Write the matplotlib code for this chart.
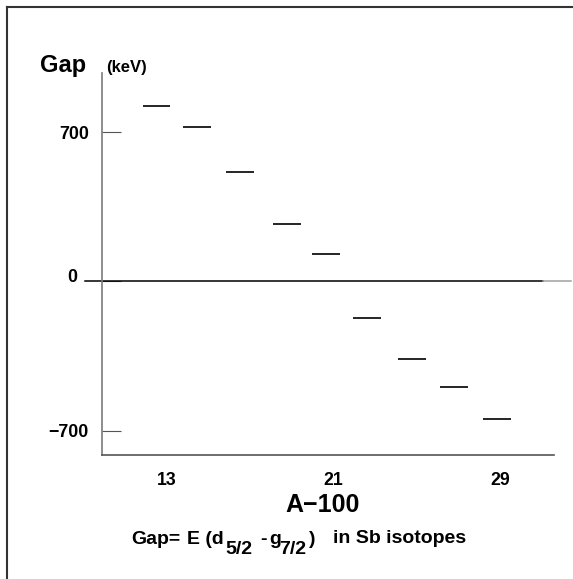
import matplotlib
matplotlib.use('Agg')
import matplotlib.pyplot as plt
from matplotlib.lines import Line2D
from matplotlib.transforms import ScaledTranslation

# energy gap E(d5/2 - g7/2) in Sb isotopes
a_minus_100 = [12.5, 14.45, 16.5, 18.78, 20.63, 22.6, 24.76, 26.8, 28.85]
gap_kev = [824, 724, 513, 271, 130, -171, -362, -493, -645]

xtick_vals = [13, 21, 29]
ytick_vals = [-700, 0, 700]
ytick_labels = ['\u2212700', '0', '700']

plt.rcParams['font.family'] = ['Liberation Sans', 'DejaVu Sans']
plt.rcParams['font.weight'] = 'bold'

W, H = 573, 579
fig = plt.figure(figsize=(W / 100, H / 100), dpi=100)


def px(x, y):
    # pixel position (from top left) -> figure fraction
    return x / W, 1 - y / H


ax = fig.add_axes([102 / W, 1 - 455 / H, 452 / W, 382 / H])

half = 0.67
ax.hlines(gap_kev, [x - half for x in a_minus_100], [x + half for x in a_minus_100],
          colors='black', linewidth=1.2)

# zero line, reaching a bit past the axes on both sides
ax.axhline(0, xmin=-17 / 452, xmax=441 / 452, color='black', lw=1.1, clip_on=False)
ax.axhline(0, xmin=441 / 452, xmax=469 / 452, color='#a0a0a0', lw=1.1, clip_on=False)

ax.set_xlim(9.88, 31.6)
ax.set_ylim(-813, 977)

for s in ['top', 'right']:
    ax.spines[s].set_visible(False)
ax.spines['left'].set_color('#7a7a7a')
ax.spines['bottom'].set_color('#555555')
ax.spines['left'].set_linewidth(1.2)
ax.spines['bottom'].set_linewidth(1.2)

ax.set_yticks(ytick_vals)
ax.set_yticklabels(ytick_labels)
ax.tick_params(axis='y', direction='in', length=13.7, width=0.8, color='#555555',
               pad=9.4, labelsize=12.8)
ax.set_xticks(xtick_vals)
ax.set_xticklabels([str(v) for v in xtick_vals])
ax.tick_params(axis='x', length=0, pad=12, labelsize=12.8)

# the "0" label sits a bit further left and higher
for lab in ax.get_yticklabels():
    if lab.get_text() == '0':
        lab.set_transform(lab.get_transform() +
                          ScaledTranslation(-12 / 100, 6 / 100, fig.dpi_scale_trans))

# axis titles
fig.text(*px(40, 72), 'Gap', fontsize=17, va='baseline')
fig.text(*px(106, 72), '(keV)', fontsize=12, va='baseline')
fig.text(*px(323, 511.5), 'A\u2212100', fontsize=18, ha='center', va='baseline')

# caption with lowered subscripts
fs = 14
fig.text(*px(131, 544), 'Gap=', fontsize=fs, va='baseline')
fig.text(*px(187, 544), 'E (d', fontsize=fs, va='baseline')
fig.text(*px(225, 554), '5/2', fontsize=fs, va='baseline')
fig.text(*px(260, 544), '-', fontsize=fs, va='baseline')
fig.text(*px(269, 544), 'g', fontsize=fs, va='baseline')
fig.text(*px(279, 554), '7/2', fontsize=fs, va='baseline')
fig.text(*px(309, 544), ')', fontsize=fs, va='baseline')
fig.text(*px(333, 543), 'in Sb isotopes', fontsize=fs, va='baseline')

# page frame (top and left edges)
fig.add_artist(Line2D([7 / W, 1], [1 - 7 / H] * 2, color='#333333', lw=1.5))
fig.add_artist(Line2D([7 / W] * 2, [0, 1 - 7 / H], color='#333333', lw=1.5))

fig.savefig('out.png', dpi=100)
